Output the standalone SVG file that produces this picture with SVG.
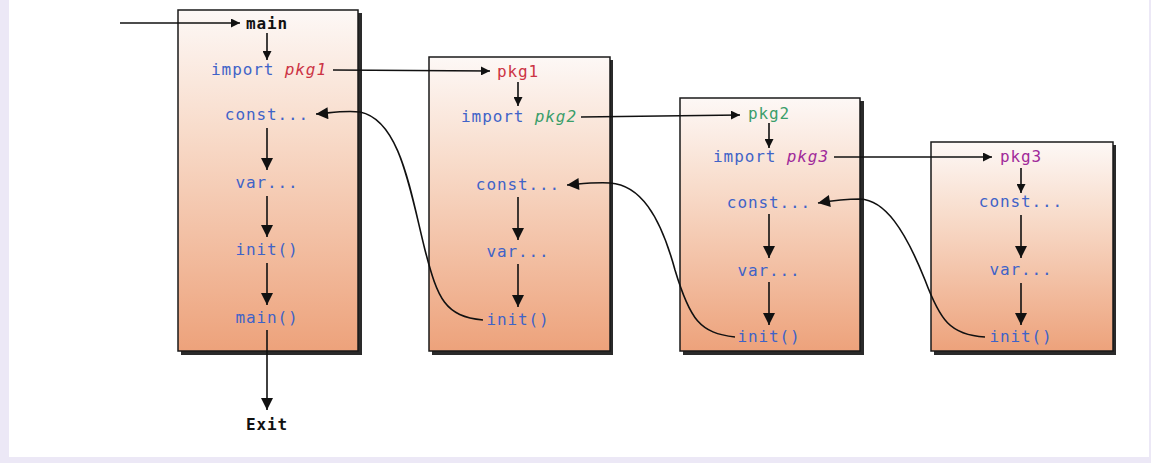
<svg xmlns="http://www.w3.org/2000/svg" width="1151" height="463" viewBox="0 0 1151 463">
<style>
.t{font-family:"DejaVu Sans Mono","Liberation Mono",monospace;font-size:16px;letter-spacing:0.9px;text-anchor:middle;fill:#3f63c8}
.hd{font-weight:bold}
.k{fill:#111;font-weight:bold}
.r{fill:#cc3344}.g{fill:#3a9e6a}.p{fill:#a02a9a}
.it{font-style:italic}
.box{fill:url(#grad);stroke:#1a1a1a;stroke-width:1.5}
.sh{fill:#2a2a2a}
.ln{fill:none;stroke:#111;stroke-width:1.6}
</style>
<defs>
<linearGradient id="grad" x1="0" y1="0" x2="0" y2="1">
<stop offset="0" stop-color="#fdf8f6"/>
<stop offset="0.35" stop-color="#f8dccb"/>
<stop offset="1" stop-color="#eda27b"/>
</linearGradient>
<marker id="ah" viewBox="0 0 10 10" refX="10" refY="5" markerWidth="9" markerHeight="9" markerUnits="userSpaceOnUse" orient="auto">
<path d="M0,0 L10,5 L0,10 Z" fill="#111"/>
</marker>
<marker id="av" viewBox="0 0 10 10" refX="10" refY="5" markerWidth="14" markerHeight="12" markerUnits="userSpaceOnUse" orient="auto">
<path d="M0,0 L10,5 L0,10 Z" fill="#111"/>
</marker>
</defs>
<rect x="0" y="0" width="1151" height="463" fill="#ece8f6"/>
<rect x="9" y="0" width="1140" height="457" fill="#ffffff"/>

<g id="main-pkg">
<rect class="sh" x="181" y="13" width="181" height="342"/>
<rect class="box" x="178" y="10" width="180" height="341"/>
<text class="t k" x="267" y="29">main</text>
<text class="t" x="269" y="75">import <tspan class="r it">pkg1</tspan></text>
<text class="t" x="267" y="120">const...</text>
<text class="t" x="267" y="188">var...</text>
<text class="t" x="267" y="255">init()</text>
<text class="t" x="267" y="323">main()</text>
</g>

<g id="pkg1">
<rect class="sh" x="432" y="60" width="181" height="295"/>
<rect class="box" x="429" y="57" width="181" height="294"/>
<text class="t r" x="518" y="77">pkg1</text>
<text class="t" x="519" y="122">import <tspan class="g it">pkg2</tspan></text>
<text class="t" x="518" y="190">const...</text>
<text class="t" x="518" y="257">var...</text>
<text class="t" x="518" y="325">init()</text>
</g>

<g id="pkg2">
<rect class="sh" x="683" y="101" width="181" height="254"/>
<rect class="box" x="680" y="98" width="180" height="253"/>
<text class="t g" x="769" y="119">pkg2</text>
<text class="t" x="771" y="162">import <tspan class="p it">pkg3</tspan></text>
<text class="t" x="769" y="208">const...</text>
<text class="t" x="769" y="276">var...</text>
<text class="t" x="769" y="342">init()</text>
</g>

<g id="pkg3">
<rect class="sh" x="934" y="145" width="182" height="210"/>
<rect class="box" x="931" y="142" width="182" height="209"/>
<text class="t p" x="1021" y="162">pkg3</text>
<text class="t" x="1021" y="207">const...</text>
<text class="t" x="1021" y="275">var...</text>
<text class="t" x="1021" y="342">init()</text>
</g>

<text id="exit" class="t k" x="267" y="430">Exit</text>

<g id="connectors">
<line class="ln" x1="120" y1="23" x2="240" y2="23" marker-end="url(#ah)"/>
<line class="ln" x1="267" y1="33" x2="267" y2="60" marker-end="url(#ah)"/>
<line class="ln" x1="267" y1="128" x2="267" y2="170" marker-end="url(#av)"/>
<line class="ln" x1="267" y1="196" x2="267" y2="237" marker-end="url(#av)"/>
<line class="ln" x1="267" y1="263" x2="267" y2="305" marker-end="url(#av)"/>
<line class="ln" x1="267" y1="330" x2="267" y2="410" marker-end="url(#av)"/>

<line class="ln" x1="333" y1="70" x2="490" y2="71" marker-end="url(#ah)"/>
<line class="ln" x1="518" y1="82" x2="518" y2="106" marker-end="url(#ah)"/>
<line class="ln" x1="518" y1="197" x2="518" y2="240" marker-end="url(#av)"/>
<line class="ln" x1="518" y1="264" x2="518" y2="307" marker-end="url(#av)"/>

<line class="ln" x1="581" y1="117" x2="740" y2="115" marker-end="url(#ah)"/>
<line class="ln" x1="769" y1="123" x2="769" y2="148" marker-end="url(#ah)"/>
<line class="ln" x1="769" y1="214" x2="769" y2="258" marker-end="url(#av)"/>
<line class="ln" x1="769" y1="282" x2="769" y2="325" marker-end="url(#av)"/>

<line class="ln" x1="834" y1="157" x2="992" y2="157" marker-end="url(#ah)"/>
<line class="ln" x1="1021" y1="168" x2="1021" y2="193" marker-end="url(#ah)"/>
<line class="ln" x1="1021" y1="215" x2="1021" y2="258" marker-end="url(#av)"/>
<line class="ln" x1="1021" y1="283" x2="1021" y2="325" marker-end="url(#av)"/>

<path class="ln" d="M483,320 C445,316 438,300 425,250 C410,190 400,120 360,112 C345,110 330,113 316,114" marker-end="url(#av)"/>
<path class="ln" d="M735,337 C700,333 690,320 675,270 C660,215 640,185 610,183 C595,182 580,184 567,185" marker-end="url(#av)"/>
<path class="ln" d="M985,337 C950,335 940,320 925,280 C905,230 885,200 860,199 C845,199 830,201 818,203" marker-end="url(#av)"/>
</g>
</svg>
